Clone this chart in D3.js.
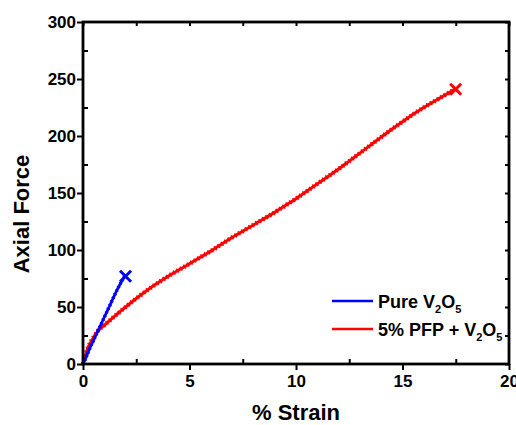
<!DOCTYPE html>
<html>
<head>
<meta charset="utf-8">
<script src="https://cdn.jsdelivr.net/npm/d3@7"></script>
<style>
  html, body { margin: 0; padding: 0; background: #fff; }
  svg { display: block; }
  text { font-family: "Liberation Sans", Arial, sans-serif; font-weight: bold; fill: #000; }
</style>
</head>
<body>
<svg id="chart" width="516" height="425"></svg>
<script>
// Strain (%) vs axial force for the two samples
const pureStrain = [0, 0.15, 0.3, 0.5, 0.7, 1.0, 1.3, 1.6, 1.95];
const pureForce  = [0, 6, 13, 21, 29, 41, 53, 65, 77];

const pfpStrain = [0, 0.1, 0.25, 0.45, 0.7, 1.0, 1.3, 1.65, 2.0, 2.5, 3.0, 3.5, 4.0, 4.5,
  5.0, 5.5, 6.0, 6.5, 7.0, 7.5, 8.0, 8.5, 9.0, 9.5, 10.0, 10.5, 11.0, 11.5, 12.0, 12.5,
  13.0, 13.5, 14.0, 14.5, 15.0, 15.5, 16.0, 16.5, 17.0, 17.45];
const pfpForce = [0, 7, 15, 22, 29, 34, 39, 44.5, 50, 57.5, 64.5, 71, 77, 82.5,
  88, 93.5, 99, 105, 111, 116.5, 122, 127.5, 133, 139, 145, 151.5, 158, 164.5, 171, 178,
  185, 192, 199, 206, 212.5, 219, 225, 230.5, 236, 241];

const xMajor = [0, 5, 10, 15, 20];
const xMinor = [2.5, 7.5, 12.5, 17.5];
const yMajor = [0, 50, 100, 150, 200, 250, 300];
const yMinor = [25, 75, 125, 175, 225, 275];

const seriesNames = ["Pure V", "5% PFP + V"];
const seriesColors = ["#0000ff", "#ff0000"];

const svg = d3.select("#chart");
const x = d3.scaleLinear().domain([0, 20]).range([83, 509]);
const y = d3.scaleLinear().domain([0, 300]).range([364, 22]);

const series = [
  { name: seriesNames[0], color: seriesColors[0], pts: pureStrain.map((s, i) => [s, pureForce[i]]) },
  { name: seriesNames[1], color: seriesColors[1], pts: pfpStrain.map((s, i) => [s, pfpForce[i]]) }
];

const line = d3.line().x(d => x(d[0])).y(d => y(d[1])).curve(d3.curveMonotoneX);

// curves: red drawn first so blue sits on top near the origin
[series[1], series[0]].forEach(s => {
  const isRed = s === series[1];
  svg.append("path").attr("d", line(s.pts))
    .attr("fill", "none").attr("stroke", s.color).attr("stroke-width", isRed ? 3 : 2.8)
    .attr("stroke-linejoin", "round");
  // serrated texture of the recorded signal
  svg.append("path").attr("d", line(s.pts))
    .attr("fill", "none").attr("stroke", s.color).attr("stroke-width", isRed ? 4.6 : 3.6)
    .attr("stroke-dasharray", "1.5 2.5");
  // failure marker at the last point
  const last = s.pts[s.pts.length - 1];
  const cx = x(last[0]) + 1, cy = y(last[1]);
  const r = 5.5;
  svg.append("path")
    .attr("d", `M${cx - r},${cy - r}L${cx + r},${cy + r}M${cx - r},${cy + r}L${cx + r},${cy - r}`)
    .attr("stroke", s.color).attr("stroke-width", 3).attr("fill", "none");
});

// axes
function styleAxis(g) {
  g.select(".domain").remove();
  g.selectAll(".tick line").attr("stroke", "#000").attr("stroke-width", 2);
}
svg.append("g").attr("transform", "translate(0,364)")
  .call(d3.axisBottom(x).tickValues(xMajor).tickSize(6).tickPadding(5).tickFormat(d3.format("d")))
  .call(styleAxis)
  .call(g => g.selectAll("text").attr("font-size", 17).attr("font-family", null).attr("fill", "#000"));
svg.append("g").attr("transform", "translate(0,364)")
  .call(d3.axisBottom(x).tickValues(xMinor).tickSize(-5).tickFormat(""))
  .call(styleAxis);
svg.append("g").attr("transform", "translate(0,22)")
  .call(d3.axisTop(x).tickValues(xMajor.concat(xMinor)).tickSize(-4).tickFormat(""))
  .call(styleAxis);

svg.append("g").attr("transform", "translate(83,0)")
  .call(d3.axisLeft(y).tickValues(yMajor).tickSize(6).tickPadding(1).tickFormat(d3.format("d")))
  .call(styleAxis)
  .call(g => g.selectAll("text").attr("font-size", 17).attr("font-family", null).attr("fill", "#000"));
svg.append("g").attr("transform", "translate(83,0)")
  .call(d3.axisLeft(y).tickValues(yMinor).tickSize(-5).tickFormat(""))
  .call(styleAxis);
svg.append("g").attr("transform", "translate(509,0)")
  .call(d3.axisRight(y).tickValues(yMajor.concat(yMinor)).tickSize(-4).tickFormat(""))
  .call(styleAxis);

// frame
svg.append("rect")
  .attr("x", x(0)).attr("y", y(300))
  .attr("width", x(20) - x(0)).attr("height", y(0) - y(300))
  .attr("fill", "none").attr("stroke", "#000").attr("stroke-width", 2.8);

// axis titles
svg.append("text").attr("x", x(10)).attr("y", 420)
  .attr("text-anchor", "middle").attr("font-size", 22).text("% Strain");
svg.append("text").attr("transform", `translate(29,${(y(0) + y(300)) / 2 + 21}) rotate(-90)`)
  .attr("text-anchor", "middle").attr("font-size", 22).text("Axial Force");

// legend
const legend = svg.append("g");
series.forEach((s, i) => {
  const ly = 301 + i * 28;
  legend.append("line").attr("x1", 332).attr("x2", 373).attr("y1", ly).attr("y2", ly)
    .attr("stroke", s.color).attr("stroke-width", 2.6);
  const t = legend.append("text").attr("x", 378).attr("y", ly + 7).attr("font-size", 18);
  t.append("tspan").text(s.name);
  t.append("tspan").attr("font-size", 11).attr("dy", 5).text("2");
  t.append("tspan").attr("dy", -5).text("O");
  t.append("tspan").attr("font-size", 11).attr("dy", 5).text("5");
});
</script>
</body>
</html>
